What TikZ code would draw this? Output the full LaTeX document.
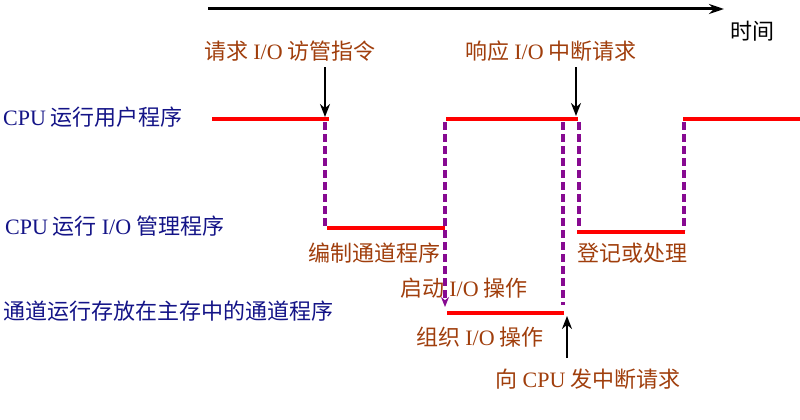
\documentclass[tikz,border=0pt]{standalone}
\usepackage{fontspec}
\newfontfamily\cjk{Noto Sans CJK SC}
\newfontfamily\lat{Liberation Serif}
\newcommand{\latw}[1]{{\lat #1}}
\usetikzlibrary{arrows.meta}
\definecolor{txtbrown}{RGB}{160,62,12}
\definecolor{txtblue}{RGB}{20,20,135}
\definecolor{dashpurple}{RGB}{135,10,145}
\begin{document}
\begin{tikzpicture}[x=1pt,y=-1pt,
  lbl/.style={font=\cjk\fontsize{22}{24}\selectfont, inner sep=0pt},
  brownlbl/.style={lbl,text=txtbrown},
  bluelbl/.style={lbl,text=txtblue,anchor=west},
  level/.style={red,line width=3.6pt},
  trans/.style={dashpurple,line width=3.1pt,dash pattern=on 8pt off 4pt},
  evt/.style={black,line width=2.4pt,-{Stealth[length=13pt,width=10pt]}}]
\useasboundingbox (0,0) rectangle (800,420);
% time axis
\coordinate (t0) at (208,9);
\coordinate (t1) at (724,9);
\draw[line width=3pt,-{Stealth[length=15pt,width=10pt]}] (t0) -- (t1);
\node[lbl] (time) at (752,31) {时间};
% row labels
\node[bluelbl] (r1) at (3,117) {\latw{CPU} 运行用户程序};
\node[bluelbl] (r2) at (5,226) {\latw{CPU} 运行 \latw{I/O} 管理程序};
\node[bluelbl] (r3) at (3,311) {通道运行存放在主存中的通道程序};
% levels
\coordinate (a0) at (212,119); \coordinate (a1) at (329,119);
\coordinate (b0) at (327,228); \coordinate (b1) at (445,228);
\coordinate (c0) at (446,119); \coordinate (c1) at (578,119);
\coordinate (d0) at (447,313); \coordinate (d1) at (564,313);
\coordinate (e0) at (577,232); \coordinate (e1) at (685,232);
\coordinate (f0) at (683,119); \coordinate (f1) at (800,119);
\draw[level] (a0) -- (a1);
\draw[level] (b0) -- (b1);
\draw[level] (c0) -- (c1);
\draw[level] (d0) -- (d1);
\draw[level] (e0) -- (e1);
\draw[level] (f0) -- (f1);
% transitions
\coordinate (p1a) at (325,122); \coordinate (p1b) at (325,226);
\coordinate (p2a) at (445,122); \coordinate (p2b) at (445,307);
\coordinate (p3a) at (563,122); \coordinate (p3b) at (563,305);
\coordinate (p4a) at (579,122); \coordinate (p4b) at (579,230);
\coordinate (p5a) at (684,122); \coordinate (p5b) at (684,230);
\draw[trans] (p1a) -- (p1b);
\draw[trans,-{Stealth[length=10pt,width=8pt]}] (p2a) -- (p2b);
\draw[trans] (p3a) -- (p3b);
\draw[trans] (p4a) -- (p4b);
\draw[trans] (p5a) -- (p5b);
% events
\node[brownlbl] (req) at (290,51) {请求 \latw{I/O} 访管指令};
\node[brownlbl] (resp) at (551,51) {响应 \latw{I/O} 中断请求};
\coordinate (q1) at (325,117);
\coordinate (q2) at (576,116);
\draw[evt] (req.south -| q1) ++(0,6) -- (q1);
\draw[evt] (resp.south -| q2) ++(0,6) -- (q2);
\node[brownlbl] (bz) at (374,253) {编制通道程序};
\node[brownlbl] (dj) at (632,253) {登记或处理};
\node[brownlbl] (qd) at (464,288) {启动 \latw{I/O} 操作};
\node[brownlbl] (zz) at (480,337) {组织 \latw{I/O} 操作};
\node[brownlbl] (xcpu) at (588,379) {向 \latw{CPU} 发中断请求};
\coordinate (u1) at (567,316);
\coordinate (u0) at (567,358);
\draw[evt] (u0) -- (u1);
\end{tikzpicture}
\end{document}
